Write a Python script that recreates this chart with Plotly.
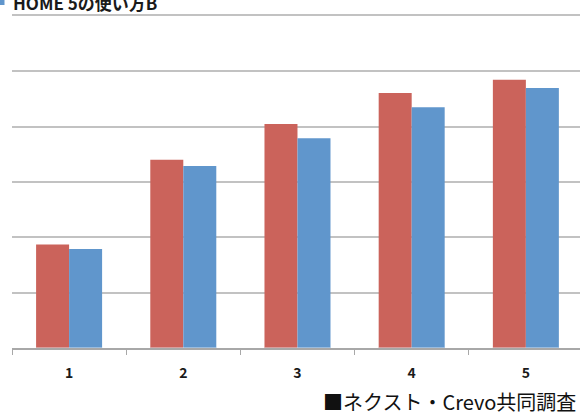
import plotly.graph_objects as go

categories = ["1", "2", "3", "4", "5"]
series_a_name = "HOME 5の使い方A"
series_b_name = "HOME 5の使い方B"
series_a = [1.87, 3.40, 4.05, 4.61, 4.85]
series_b = [1.79, 3.29, 3.79, 4.35, 4.70]
grid_values = [1, 2, 3, 4, 5, 6]
source_text = "■ネクスト・Crevo共同調査"

RED = "#CB635B"
BLUE = "#6096CC"
GRID = "#C2C2C2"
FONT = "Noto Sans CJK JP"

fig = go.Figure()
fig.add_trace(go.Bar(x=categories, y=series_a, name=series_a_name,
                     marker=dict(color=RED, line=dict(width=0))))
fig.add_trace(go.Bar(x=categories, y=series_b, name=series_b_name,
                     marker=dict(color=BLUE, line=dict(width=0))))

W, H = 580, 412
ml, mr, mt, mb = 12, 0, 16, 64
pw, ph = W - ml - mr, H - mt - mb

def px2paper_x(px):
    return (px - ml) / pw

def px2paper_y(py):
    return (H - mb - py) / ph

fig.update_layout(
    width=W, height=H,
    margin=dict(l=ml, r=mr, t=mt, b=mb, pad=0),
    paper_bgcolor="white", plot_bgcolor="white",
    barmode="group", bargap=0.422, bargroupgap=0,
    showlegend=False,
    font=dict(family=FONT, color="#1a1a1a"),
    xaxis=dict(
        type="category", range=[-0.5, 4.474],
        showline=True, linecolor="#A8A8A8", linewidth=1.5,
        ticks="outside", tickson="boundaries", ticklen=5, tickcolor="#A8A8A8", tickwidth=1.2,
        showgrid=False,
        tickfont=dict(family=FONT, size=14, color="#1a1a1a", weight="bold"),
        ticklabelstandoff=11,
    ),
    yaxis=dict(
        range=[0, grid_values[-1]], tickvals=grid_values, showticklabels=False,
        showgrid=True, gridcolor=GRID, gridwidth=1.6,
        zeroline=False, showline=False, ticks="",
    ),
    xaxis2=dict(
        overlaying="x", side="top", anchor="y", type="category",
        range=[-0.5, 4.474], showline=True, linecolor=GRID, linewidth=1.8,
        showticklabels=False, ticks="", showgrid=False, matches="x",
    ),
    shapes=[
        dict(type="rect", xref="paper", yref="paper",
             x0=px2paper_x(-3), x1=px2paper_x(4.5),
             y0=px2paper_y(5), y1=px2paper_y(-3),
             fillcolor=BLUE, line=dict(width=0)),
    ],
    annotations=[
        dict(text=series_b_name, xref="paper", yref="paper",
             x=px2paper_x(11), y=px2paper_y(17), xanchor="left", yanchor="bottom",
             showarrow=False,
             font=dict(family=FONT, size=17, color="#1a1a1a", weight="bold")),
        dict(text=source_text, xref="paper", yref="paper",
             x=px2paper_x(578), y=px2paper_y(401), xanchor="right", yanchor="middle",
             showarrow=False,
             font=dict(family=FONT, size=20, color="#111111")),
    ],
)
fig.add_trace(go.Bar(x=categories, y=[0] * len(categories), xaxis="x2",
                     showlegend=False, hoverinfo="skip",
                     marker=dict(color="rgba(0,0,0,0)")))

fig.write_html("out.html", config={"displayModeBar": False},
               post_script="document.body.style.margin='0';document.body.style.padding='0';")
